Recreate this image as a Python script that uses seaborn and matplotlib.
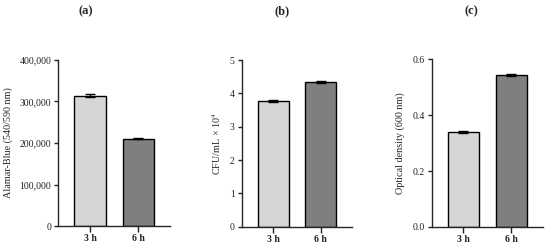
import seaborn as sns
import pandas as pd
from matplotlib import pyplot as plt

# values
times = ['3 h', '6 h']
alamar = [314000, 210500]
alamar_sd = [3000, 1500]
cfu = [3.76, 4.33]
cfu_sd = [0.03, 0.03]
od = [0.340, 0.543]
od_sd = [0.005, 0.004]

panels = ['(a)', '(b)', '(c)']
ylabels = ['Alamar-Blue (540/590 nm)', 'CFU/mL × 10$^4$', 'Optical density (600 nm)']
colors = ['#d6d6d6', '#7f7f7f']

sns.set_style('ticks')
plt.rcParams['font.family'] = ['Liberation Serif', 'DejaVu Serif']
plt.rcParams['mathtext.fontset'] = 'stix'

fig = plt.figure(figsize=(5.5, 2.5), dpi=100)
boxes = [[0.106, 0.096, 0.203, 0.664],
         [0.4395, 0.093, 0.2005, 0.667],
         [0.785, 0.092, 0.2024, 0.671]]
title_x = [86 / 550, 281.7 / 550, 471.7 / 550]
data = [(alamar, alamar_sd), (cfu, cfu_sd), (od, od_sd)]
ylims = [(0, 400000), (0, 5), (0, 0.6)]
yticks = [[0, 100000, 200000, 300000, 400000], [0, 1, 2, 3, 4, 5], [0.0, 0.2, 0.4, 0.6]]
yfmt = [lambda v: f'{int(v):,}', lambda v: f'{int(v)}', lambda v: f'{v:.1f}']

for i in range(3):
    ax = fig.add_axes(boxes[i])
    vals, sd = data[i]
    df = pd.DataFrame({'time': times, 'value': vals})
    sns.barplot(data=df, x='time', y='value', hue='time', palette=colors, legend=False,
                width=0.65, edgecolor='black', linewidth=1.0, ax=ax)
    ax.errorbar([0, 1], vals, yerr=sd, fmt='none', ecolor='black', elinewidth=1.0,
                capsize=3.5, capthick=1.0)
    ax.set_xlim(-0.66, 1.66)
    ax.set_ylim(*ylims[i])
    ax.set_yticks(yticks[i])
    ax.set_yticklabels([yfmt[i](v) for v in yticks[i]], fontsize=7)
    ax.set_xticks([0, 1])
    ax.set_xticklabels(times, fontsize=7, fontweight='bold')
    ax.set_xlabel('')
    ax.set_ylabel(ylabels[i], fontsize=7.3, labelpad=5)
    ax.tick_params(axis='both', length=3, width=1.0, pad=2, colors='#222222')
    ax.tick_params(axis='x', length=4)
    for s in ['left', 'bottom']:
        ax.spines[s].set_linewidth(1.0)
    sns.despine(ax=ax)
    fig.text(title_x[i], 1 - 11 / 250, panels[i], ha='center', va='center',
             fontsize=9, fontweight='bold')

fig.savefig('out.png', dpi=100)
